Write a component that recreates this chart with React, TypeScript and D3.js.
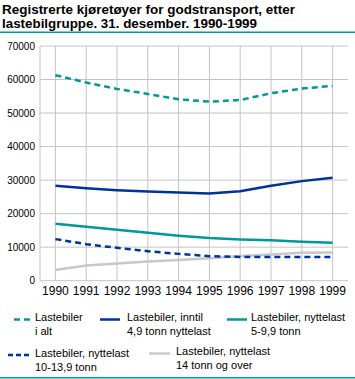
import React from "react";
import * as d3 from "d3";

const years = ["1990","1991","1992","1993","1994","1995","1996","1997","1998","1999"];
const totalAll = [61300, 59100, 57200, 55700, 54100, 53400, 53900, 55900, 57300, 58100];
const upTo49 = [28300, 27600, 27000, 26600, 26300, 26000, 26700, 28300, 29700, 30700];
const from5to99 = [17000, 16100, 15200, 14300, 13400, 12700, 12300, 12100, 11600, 11300];
const from10to139 = [12400, 10900, 9800, 8800, 8000, 7300, 7100, 7100, 7100, 7100];
const over14 = [3200, 4500, 5100, 5700, 6200, 6700, 7400, 7800, 8300, 8400];
const yTicks = [0, 10000, 20000, 30000, 40000, 50000, 60000, 70000];

const TEAL = "#00999a";
const BLUE = "#003399";
const GREY = "#c8c8c8";
const GRID = "#c4c4c4";
const FONT = "'Liberation Sans', Arial, sans-serif";

const seriesList = [
  { name: "total", values: totalAll, color: TEAL, dash: "6,4" },
  { name: "upto", values: upTo49, color: BLUE, dash: null },
  { name: "5-9", values: from5to99, color: TEAL, dash: null },
  { name: "10-13", values: from10to139, color: BLUE, dash: "6,4" },
  { name: "14", values: over14, color: GREY, dash: null },
];

export default function App() {
  const left = 40, right = 348, top = 46, bottom = 280.7;
  const x = d3.scalePoint<string>().domain(years).range([left, right]).padding(0.5);
  const y = d3.scaleLinear().domain([0, 70000]).range([bottom, top]);
  const line = d3.line<number>().x((_, i) => x(years[i]) as number).y((d) => y(d));

  const legend = [
    { x1: 14, x2: 30, sy: 319.5, tx: 35, ty: 321, lines: ["Lastebiler", "i alt"], color: TEAL, dash: "6,4" },
    { x1: 100, x2: 120, sy: 319.5, tx: 127, ty: 321, lines: ["Lastebiler, inntil", "4,9 tonn nyttelast"], color: BLUE, dash: null },
    { x1: 227, x2: 247, sy: 319.5, tx: 251, ty: 321, lines: ["Lastebiler, nyttelast", "5-9,9 tonn"], color: TEAL, dash: null },
    { x1: 8, x2: 30, sy: 355, tx: 35, ty: 357, lines: ["Lastebiler, nyttelast", "10-13,9 tonn"], color: BLUE, dash: "5,3" },
    { x1: 149, x2: 170, sy: 353.5, tx: 176, ty: 355, lines: ["Lastebiler, nyttelast", "14 tonn og over"], color: GREY, dash: null },
  ];

  return (
    <svg width={355} height={379} style={{ position: "absolute", left: 0, top: 0, background: "#fff" }} fontFamily={FONT}>
      <text x={2} y={14} fontSize={13} fontWeight="bold" textLength={293} lengthAdjust="spacingAndGlyphs" fill="#000">Registrerte kjøretøyer for godstransport, etter</text>
      <text x={2} y={28} fontSize={13} fontWeight="bold" textLength={255} lengthAdjust="spacingAndGlyphs" fill="#000">lastebilgruppe. 31. desember. 1990-1999</text>
      <rect x={0} y={31.5} width={355} height={1.5} fill={TEAL} />

      {yTicks.map((t) => (
        <g key={t}>
          <line x1={left} x2={right} y1={y(t)} y2={y(t)} stroke={GRID} strokeWidth={1} />
          <text x={35} y={y(t)} dy="0.35em" textAnchor="end" fontSize={10} fill="#000">{t}</text>
        </g>
      ))}
      <line x1={left} x2={left} y1={top} y2={bottom} stroke={GRID} strokeWidth={1} />
      {years.map((yr) => (
        <g key={yr}>
          <line x1={x(yr)} x2={x(yr)} y1={top} y2={bottom} stroke={GRID} strokeWidth={1} />
          <text x={x(yr)} y={295} textAnchor="middle" fontSize={12} fill="#000">{yr}</text>
        </g>
      ))}

      {seriesList.slice().reverse().map((s) => (
        <path key={s.name} d={line(s.values) || ""} fill="none" stroke={s.color} strokeWidth={2.5} strokeDasharray={s.dash || undefined} />
      ))}

      {legend.map((l, i) => (
        <g key={i}>
          <line x1={l.x1} x2={l.x2} y1={l.sy} y2={l.sy} stroke={l.color} strokeWidth={2.5} strokeDasharray={l.dash || undefined} />
          {l.lines.map((t, j) => (
            <text key={j} x={l.tx} y={l.ty + j * 14} fontSize={11} fill="#000">{t}</text>
          ))}
        </g>
      ))}
      <rect x={0} y={377} width={355} height={1.5} fill={TEAL} />
    </svg>
  );
}
